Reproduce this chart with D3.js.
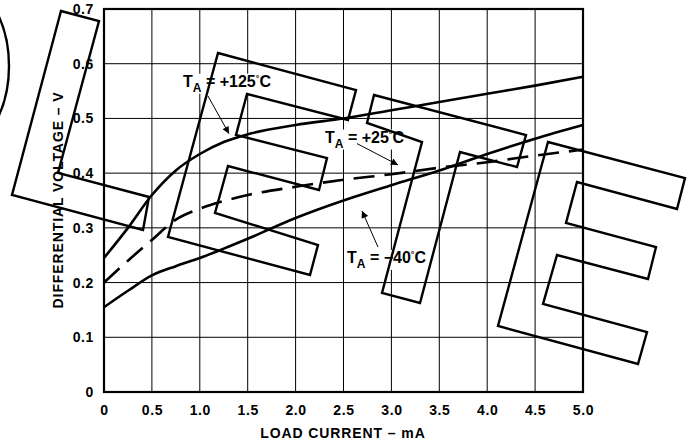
<!DOCTYPE html>
<html>
<head>
<meta charset="utf-8">
<script src="https://cdn.jsdelivr.net/npm/d3@7"></script>
<style>
  body { margin: 0; background: #fff; }
  text { font-family: "Liberation Sans", Arial, sans-serif; font-weight: bold; fill: #000; }
</style>
</head>
<body>
<div id="chart"></div>
<script>
// DATA
var loadCurrent = [0, 0.25, 0.5, 0.75, 1.0, 1.25, 1.5, 2.0, 2.5, 3.0, 3.5, 4.0, 4.5, 5.0];
var volt125 = [0.245, 0.30, 0.36, 0.405, 0.435, 0.457, 0.471, 0.488, 0.500, 0.515, 0.530, 0.545, 0.560, 0.576];
var volt25  = [0.200, 0.240, 0.278, 0.315, 0.335, 0.349, 0.360, 0.375, 0.388, 0.398, 0.410, 0.420, 0.432, 0.443];
var volt40  = [0.155, 0.185, 0.213, 0.230, 0.245, 0.262, 0.280, 0.318, 0.350, 0.378, 0.405, 0.435, 0.463, 0.488];
var xTicks = [0, 0.5, 1.0, 1.5, 2.0, 2.5, 3.0, 3.5, 4.0, 4.5, 5.0];
var yTicks = [0, 0.1, 0.2, 0.3, 0.4, 0.5, 0.6, 0.7];
var seriesNames = ['+125', '+25', '\u221240'];
// label anchor [x, y] and arrow [tailX, tailY, tipX, tipY] in data units
var labelPos = [[0.825, 0.558], [2.307, 0.456], [2.537, 0.236]];
var arrowPos = [[1.085, 0.541, 1.305, 0.472], [2.641, 0.454, 3.069, 0.415], [2.86, 0.265, 2.693, 0.331]];

var width = 698, height = 443;
var margin = {left: 104, right: 115, top: 9, bottom: 51};

var svg = d3.select('#chart').append('svg')
  .attr('width', width)
  .attr('height', height);

var x = d3.scaleLinear().domain([0, 5]).range([margin.left, width - margin.right]);
var y = d3.scaleLinear().domain([0, 0.7]).range([height - margin.bottom, margin.top]);

var defs = svg.append('defs');
defs.append('marker')
  .attr('id', 'arrow')
  .attr('viewBox', '0 0 10 10')
  .attr('refX', 10).attr('refY', 5)
  .attr('markerWidth', 9).attr('markerHeight', 7)
  .attr('markerUnits', 'userSpaceOnUse')
  .attr('orient', 'auto')
  .append('path').attr('d', 'M0,0 L10,5 L0,10 Z').attr('fill', '#000');

// GRID
var grid = svg.append('g');
grid.selectAll('.vx').data(xTicks).enter().append('line')
  .attr('x1', function(d) { return x(d); }).attr('x2', function(d) { return x(d); })
  .attr('y1', y(0)).attr('y2', y(0.7))
  .attr('stroke', '#000').attr('stroke-width', 1);
grid.selectAll('.hy').data(yTicks).enter().append('line')
  .attr('y1', function(d) { return y(d); }).attr('y2', function(d) { return y(d); })
  .attr('x1', x(0)).attr('x2', x(5))
  .attr('stroke', '#000').attr('stroke-width', 1);
svg.append('rect')
  .attr('x', x(0)).attr('y', y(0.7))
  .attr('width', x(5) - x(0)).attr('height', y(0) - y(0.7))
  .attr('fill', 'none').attr('stroke', '#000').attr('stroke-width', 2.2);

// TICK LABELS
svg.selectAll('.xl').data(xTicks).enter().append('text')
  .attr('x', function(d) { return x(d) + 0.5; })
  .attr('y', 415)
  .attr('text-anchor', 'middle')
  .style('font-size', '14px')
  .style('letter-spacing', '0.6px')
  .text(function(d) { return d === 0 ? '0' : d.toFixed(1); });
svg.selectAll('.yl').data(yTicks).enter().append('text')
  .attr('x', 94)
  .attr('y', function(d) { return y(d) + 5; })
  .attr('text-anchor', 'end')
  .style('font-size', '14px')
  .style('letter-spacing', '0.6px')
  .text(function(d) { return d === 0 ? '0' : d.toFixed(1); });

svg.append('text')
  .attr('x', 343).attr('y', 438)
  .attr('text-anchor', 'middle')
  .style('font-size', '14px')
  .style('letter-spacing', '0.9px')
  .text('LOAD CURRENT \u2013 mA');
svg.append('text')
  .attr('transform', 'translate(63,200) rotate(-90)')
  .attr('text-anchor', 'middle')
  .style('font-size', '14px')
  .style('letter-spacing', '0.9px')
  .text('DIFFERENTIAL VOLTAGE \u2013 V');

// CURVES
var line = d3.line()
  .x(function(d) { return x(d[0]); })
  .y(function(d) { return y(d[1]); })
  .curve(d3.curveMonotoneX);

var series = [volt125, volt25, volt40];
series.forEach(function(vals, i) {
  svg.append('path')
    .datum(loadCurrent.map(function(c, j) { return [c, vals[j]]; }))
    .attr('d', line)
    .attr('fill', 'none')
    .attr('stroke', '#000')
    .attr('stroke-width', 2.6)
    .attr('stroke-dasharray', i === 1 ? '21,10' : null);
});

// LABELS + ARROWS
seriesNames.forEach(function(name, i) {
  var g = svg.append('g');
  var t = g.append('text')
    .attr('x', x(labelPos[i][0]))
    .attr('y', y(labelPos[i][1]))
    .style('font-size', '16px');
  t.append('tspan').text('T');
  t.append('tspan').attr('dy', 5).style('font-size', '12px').text('A');
  t.append('tspan').attr('dy', -5).text(' = ' + name);
  t.append('tspan').attr('dy', -6).style('font-size', '9px').text('\u00b0');
  t.append('tspan').attr('dy', 6).text('C');
  var bb = t.node().getBBox();
  g.insert('rect', 'text')
    .attr('x', bb.x - 1).attr('y', bb.y + 1)
    .attr('width', bb.width + 2).attr('height', bb.height - 2)
    .attr('fill', '#fff');
  var a = arrowPos[i];
  svg.append('line')
    .attr('x1', x(a[0])).attr('y1', y(a[1]))
    .attr('x2', x(a[2])).attr('y2', y(a[3]))
    .attr('stroke', '#000').attr('stroke-width', 1)
    .attr('marker-end', 'url(#arrow)');
});

// "OBSOLETE" WATERMARK (outlined letters, page pixels)
var stamp = svg.append('g').attr('fill', 'none').attr('stroke', '#000').attr('stroke-width', 2.4);
stamp.append('ellipse').attr('cx', -61).attr('cy', 66).attr('rx', 70).attr('ry', 95);
var letters = [
  [[61,11],[99,21],[58,173],[149,197],[143,230],[12,195]],
  [[218,53],[356,90],[348,120],[247,94],[236,135],[327,158],[319,190],[228,166],[215,213],[318,245],[310,275],[168,237]],
  [[374,95],[526,135],[517,167],[460,152],[420,303],[382,293],[422,142],[367,123]],
  [[548,142],[685,178],[677,209],[577,182],[566,223],[656,247],[648,279],[557,255],[543,304],[647,332],[638,364],[498,326]]
];
stamp.selectAll('polygon').data(letters).enter().append('polygon')
  .attr('points', function(d) { return d.map(function(p) { return p.join(','); }).join(' '); });
</script>
</body>
</html>
